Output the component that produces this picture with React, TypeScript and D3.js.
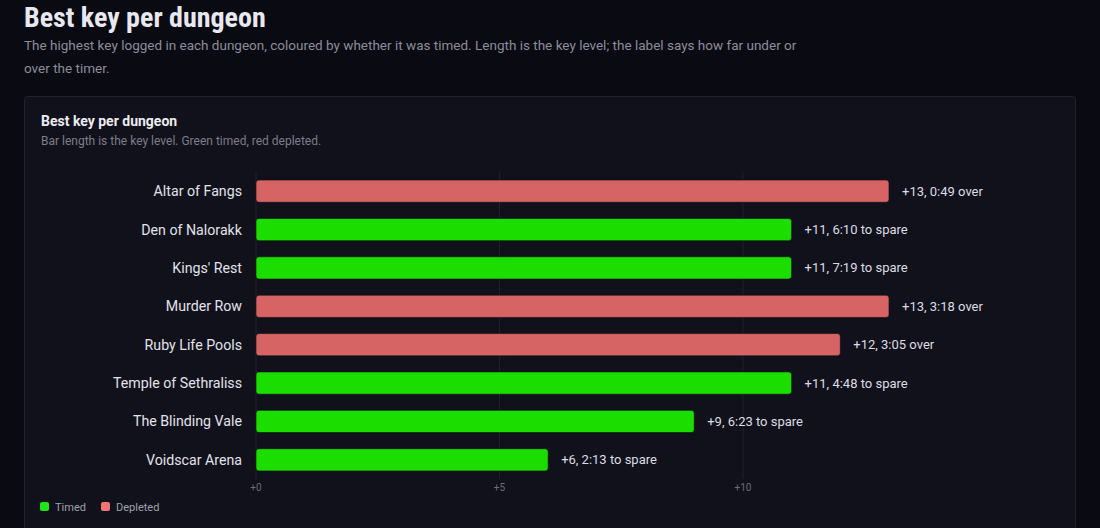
import React from "react";
import * as d3 from "d3";

// best key per dungeon
const dungeons = [
  "Altar of Fangs",
  "Den of Nalorakk",
  "Kings' Rest",
  "Murder Row",
  "Ruby Life Pools",
  "Temple of Sethraliss",
  "The Blinding Vale",
  "Voidscar Arena",
];
const keyLevels = [13, 11, 11, 13, 12, 11, 9, 6];
const timed = [false, true, true, false, false, true, true, true];
const timerNotes = [
  "0:49 over",
  "6:10 to spare",
  "7:19 to spare",
  "3:18 over",
  "3:05 over",
  "4:48 to spare",
  "6:23 to spare",
  "2:13 to spare",
];
const tickValues = [0, 5, 10];

const W = 1100;
const H = 528;
const GREEN = "#1bde00";
const RED = "#d66464";
const FONT = "'Roboto', 'Noto Sans', sans-serif";
const TITLE_FONT = "'Roboto Condensed', 'Liberation Sans Narrow', 'DejaVu Sans Condensed', 'Roboto', sans-serif";

const App = () => {
  const x = d3.scaleLinear().domain([0, 13]).range([256, 889]);
  const plotTop = 172;
  const plotBottom = 479;
  const y = d3
    .scaleBand<string>()
    .domain(dungeons)
    .range([plotTop, plotBottom])
    .paddingInner(0.42)
    .paddingOuter(0.21);

  return (
    <div style={{ position: "fixed", left: 0, top: 0, width: W, height: H }}>
      <svg width={W} height={H} style={{ display: "block" }}>
        <rect width={W} height={H} fill="#0a0a12" />
        <text x={24} y={27} fill="#e8e8f0" fontFamily={TITLE_FONT} fontWeight={700} fontSize={28}>
          Best key per dungeon
        </text>
        <text x={24} y={50} fill="#8c8c9a" fontFamily={FONT} fontSize={13.5}>
          The highest key logged in each dungeon, coloured by whether it was timed. Length is the key level; the label says how far under or
        </text>
        <text x={24} y={73} fill="#8c8c9a" fontFamily={FONT} fontSize={13.5}>
          over the timer.
        </text>

        <rect x={24.5} y={96.5} width={1051} height={440} rx={3} fill="#11111b" stroke="#22222e" />
        <text x={41} y={126} fill="#ececf2" fontFamily={FONT} fontWeight={700} fontSize={14}>
          Best key per dungeon
        </text>
        <text x={41} y={145} fill="#7c7c8a" fontFamily={FONT} fontSize={12}>
          Bar length is the key level. Green timed, red depleted.
        </text>

        {tickValues.map((t) => (
          <g key={t}>
            <line x1={x(t)} x2={x(t)} y1={plotTop} y2={plotBottom} stroke="#22222d" strokeWidth={1} />
            <text x={x(t)} y={491} textAnchor="middle" fill="#6c6c7a" fontFamily={FONT} fontSize={10}>
              {`+${t}`}
            </text>
          </g>
        ))}

        {dungeons.map((d, i) => {
          const yy = y(d)!;
          const bh = y.bandwidth();
          return (
            <g key={d}>
              <text
                x={242}
                y={yy + bh / 2}
                dy="0.35em"
                textAnchor="end"
                fill="#e2e2ea"
                fontFamily={FONT}
                fontSize={14.2}
              >
                {d}
              </text>
              <rect
                x={x(0)}
                y={yy}
                width={x(keyLevels[i]) - x(0)}
                height={bh}
                rx={3}
                fill={timed[i] ? GREEN : RED}
                stroke="#0b0b12"
                strokeOpacity={0.6}
                strokeWidth={1}
              />
              <text
                x={x(keyLevels[i]) + 13}
                y={yy + bh / 2}
                dy="0.35em"
                fill="#dcdce4"
                fontFamily={FONT}
                fontSize={13}
              >
                {`+${keyLevels[i]}, ${timerNotes[i]}`}
              </text>
            </g>
          );
        })}

        {[
          { label: "Timed", color: "#22e21a", x: 40 },
          { label: "Depleted", color: "#f07474", x: 101 },
        ].map((l) => (
          <g key={l.label}>
            <rect x={l.x} y={502} width={9} height={9} rx={2} fill={l.color} />
            <text x={l.x + 15} y={507} dy="0.35em" fill="#a0a0ac" fontFamily={FONT} fontSize={11}>
              {l.label}
            </text>
          </g>
        ))}
      </svg>
    </div>
  );
};

export default App;
